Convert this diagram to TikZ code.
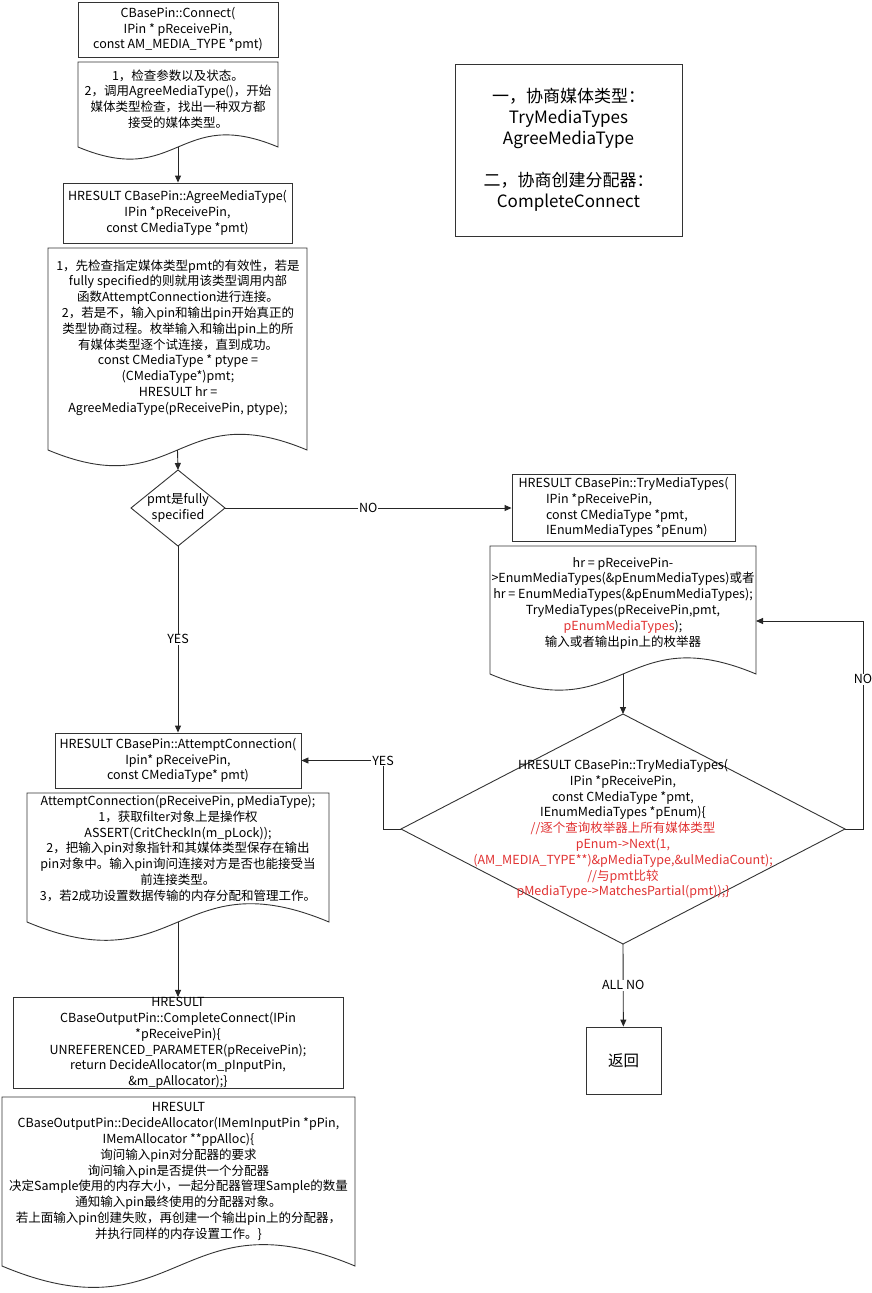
\documentclass[tikz,border=0pt]{standalone}
\usepackage{fontspec}
\setmainfont{Noto Sans CJK SC}
\usepackage{xcolor}
\usetikzlibrary{arrows.meta,calc,positioning}
\definecolor{codered}{RGB}{225,50,50}
\newcommand\codefont{\fontsize{12.5}{15.8}\selectfont}
\newcommand\bigfont{\fontsize{17}{21}\selectfont}
\tikzset{
  box/.style={draw=black!80, line width=0.9pt, inner sep=0pt, align=center, font=\codefont},
  txt/.style={inner sep=0pt, align=center, font=\codefont},
  lbl/.style={fill=white, inner sep=1pt, font=\codefont},
  arr/.style={-{Triangle[length=7pt,width=6pt]}, line width=0.9pt, draw=black!85},
  outline/.style={draw=black!80, line width=0.9pt},
}
% document shape: left, top, right, base, name of the base point
\newcommand\docshape[5]{%
  \draw[outline] (#3,#4) -- (#3,#2) -- (#1,#2) -- (#1,#4)
    .. controls ({(#1+#3)/2},{#4+0.21*(#3-#1)}) and ({(#1+#3)/2},{#4-0.21*(#3-#1)}) .. (#3,#4) -- cycle;
  \coordinate (#5) at ({(#1+#3)/2},#4);}
% decision: name, centre x, centre y, half width, half height
\newcommand\decision[5]{%
  \coordinate (#1w) at ({#2-#4},#3); \coordinate (#1e) at ({#2+#4},#3);
  \coordinate (#1n) at (#2,{#3-#5}); \coordinate (#1s) at (#2,{#3+#5});
  \draw[outline] (#1w) -- (#1n) -- (#1e) -- (#1s) -- cycle;}

\begin{document}
\begin{tikzpicture}[x=1pt,y=-1pt]
    \fill[white] (0,0) rectangle (872,1293);
    \useasboundingbox (0,0) rectangle (872,1293);

    % left column
    \node[box, minimum width=200, minimum height=55] (connect) at (178,29.5)
        {CBasePin::Connect(\\ IPin * pReceivePin,\\ const AM\_MEDIA\_TYPE *pmt)};
    \docshape{78}{62}{278}{147}{doc1b}
    \node[txt] (check) at (178,99) {1，检查参数以及状态。\\2，调用AgreeMediaType()，开始\\媒体类型检查，找出一种双方都\\接受的媒体类型。};

    \node[box, minimum width=229, minimum height=60] (agree) at (177.5,213)
        {HRESULT CBasePin::AgreeMediaType(\\IPin *pReceivePin,\\const CMediaType *pmt)};
    \docshape{48}{248}{307}{450}{doc2b}
    \node[txt] (agreetxt) at (178,337.5) {1，先检查指定媒体类型pmt的有效性，若是\\fully specified的则就用该类型调用内部\\函数AttemptConnection进行连接。\\2，若是不，输入pin和输出pin开始真正的\\类型协商过程。枚举输入和输出pin上的所\\有媒体类型逐个试连接，直到成功。\\const CMediaType * ptype =\\(CMediaType*)pmt;\\HRESULT hr =\\AgreeMediaType(pReceivePin, ptype);};

    \decision{d1}{178}{508}{47}{38}
    \node[txt] (full) at (178,508) {pmt是fully\\specified};

    \node[box, minimum width=246, minimum height=55] (attempt) at (178,760.5)
        {HRESULT CBasePin::AttemptConnection(\\Ipin* pReceivePin,\\const CMediaType* pmt)};
    \docshape{27}{793}{329}{922}{doc4b}
    \node[txt] (attempttxt) at (178,848.5) {AttemptConnection(pReceivePin, pMediaType);\\1，获取filter对象上是操作权\\ASSERT(CritCheckIn(m\_pLock));\\2，把输入pin对象指针和其媒体类型保存在输出\\pin对象中。输入pin询问连接对方是否也能接受当\\前连接类型。\\3，若2成功设置数据传输的内存分配和管理工作。};

    \node[box, minimum width=330, minimum height=88] (complete) at (178,1043)
        {HRESULT\\CBaseOutputPin::CompleteConnect(IPin\\*pReceivePin)\{\\UNREFERENCED\_PARAMETER(pReceivePin);\\return DecideAllocator(m\_pInputPin,\\\&m\_pAllocator);\}};
    \docshape{2}{1097}{355}{1266}{doc5b}
    \node[txt] (decide) at (178.5,1171.5) {HRESULT\\CBaseOutputPin::DecideAllocator(IMemInputPin *pPin,\\IMemAllocator **ppAlloc)\{\\询问输入pin对分配器的要求\\询问输入pin是否提供一个分配器\\决定Sample使用的内存大小，一起分配器管理Sample的数量\\通知输入pin最终使用的分配器对象。\\若上面输入pin创建失败，再创建一个输出pin上的分配器，\\并执行同样的内存设置工作。\}};

    % right column
    \node[box, font=\bigfont, minimum width=227, minimum height=172] (summary) at (568.5,150)
        {一，协商媒体类型：\\TryMediaTypes\\AgreeMediaType\\[21pt]二，协商创建分配器：\\CompleteConnect};

    \node[box, align=left, minimum width=223, minimum height=67] (try) at (623.5,507.5)
        {HRESULT CBasePin::TryMediaTypes(\\\hspace*{2.2em}IPin *pReceivePin,\\\hspace*{2.2em}const CMediaType *pmt,\\\hspace*{2.2em}IEnumMediaTypes *pEnum)};
    \docshape{490}{546}{756}{674}{doc3b}
    \node[txt] (enumtxt) at (623,603) {hr = pReceivePin-\\>EnumMediaTypes(\&pEnumMediaTypes)或者\\hr = EnumMediaTypes(\&pEnumMediaTypes);\\TryMediaTypes(pReceivePin,pmt,\\\textcolor{codered}{pEnumMediaTypes});\\输入或者输出pin上的枚举器};
    \coordinate (doc3r) at (756,621);

    \decision{d2}{623}{829}{222}{115}
    \node[txt] (trytxt) at (623,829) {HRESULT CBasePin::TryMediaTypes(\\IPin *pReceivePin,\\const CMediaType *pmt,\\IEnumMediaTypes *pEnum)\{\\\textcolor{codered}{//逐个查询枚举器上所有媒体类型}\\\textcolor{codered}{pEnum->Next(1,}\\\textcolor{codered}{(AM\_MEDIA\_TYPE**)\&pMediaType,\&ulMediaCount);}\\\textcolor{codered}{//与pmt比较}\\\textcolor{codered}{pMediaType->MatchesPartial(pmt));\}}};

    \node[box, font=\fontsize{15.5}{18}\selectfont, minimum width=75, minimum height=67] (ret) at (623.5,1060.5) {返回};

    % connectors
    \draw[arr] (doc1b) -- (doc1b |- agree.north);
    \draw[arr] (doc2b) -- (d1n);
    \draw[arr] (d1e) -- node[lbl]{NO} (d1e -| try.west);
    \draw[arr] (d1s) -- node[lbl]{YES} (d1s |- attempt.north);
    \draw[arr] (doc3b) -- (d2n);
    \draw[arr] (d2w) -- ++(-18,0) |- node[lbl, pos=0.5]{YES} (attempt.east);
    \draw[arr] (d2e) -- ++(18,0) coordinate (nobend) -- node[lbl, pos=0.72]{NO} (nobend |- doc3r) -- (doc3r);
    \draw[arr] (d2s) -- node[lbl]{ALL NO} (ret);
    \draw[arr] (doc4b) -- (doc4b |- complete.north);
\end{tikzpicture}
\end{document}
